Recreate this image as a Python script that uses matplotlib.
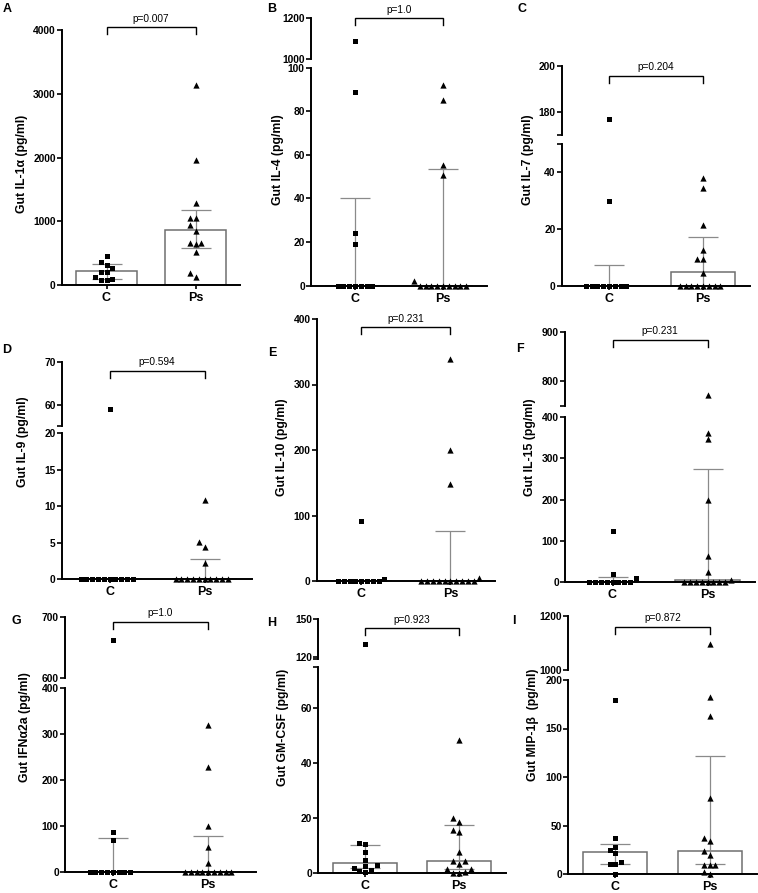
import numpy as np
import matplotlib
matplotlib.use("Agg")
from matplotlib import pyplot as plt
from matplotlib.transforms import blended_transform_factory

plt.rcParams["font.family"] = ["Liberation Sans", "DejaVu Sans"]
plt.rcParams["font.weight"] = "bold"

W, H = 758, 893

# ---- data ----
groups = ["C", "Ps"]
panel_ids = list("ABCDEFGHI")
ylabels = ["Gut IL-1α (pg/ml)", "Gut IL-4 (pg/ml)", "Gut IL-7 (pg/ml)",
           "Gut IL-9 (pg/ml)", "Gut IL-10 (pg/ml)", "Gut IL-15 (pg/ml)",
           "Gut IFNα2a (pg/ml)", "Gut GM-CSF (pg/ml)", "Gut MIP-1β  (pg/ml)"]
pvalues = ["p=0.007", "p=1.0", "p=0.204", "p=0.594", "p=0.231",
           "p=0.231", "p=1.0", "p=0.923", "p=0.872"]

ctrl_A = [455, 366, 314, 267, 209, 209, 120, 99, 78, 78]
ps_A = [3140, 1960, 1291, 1046, 1046, 941, 852, 654, 654, 638, 523, 193, 120]
ctrl_B = [1090, 89, 24, 19, 0, 0, 0, 0, 0, 0, 0]
ps_B = [92, 85, 55.5, 51, 2, 0, 0, 0, 0, 0, 0, 0, 0, 0]
ctrl_C = [177, 30, 0, 0, 0, 0, 0, 0, 0, 0]
ps_C = [38, 34.4, 21.4, 12.6, 9.3, 9.3, 4.6, 0, 0, 0, 0, 0, 0, 0, 0]
ctrl_D = [59, 0, 0, 0, 0, 0, 0, 0, 0, 0, 0]
ps_D = [10.9, 5.1, 4.4, 2.2, 0, 0, 0, 0, 0, 0, 0, 0, 0, 0]
ctrl_E = [92, 3, 0, 0, 0, 0, 0, 0, 0, 0]
ps_E = [339, 200, 148, 4, 0, 0, 0, 0, 0, 0, 0, 0, 0, 0]
ctrl_F = [123, 19, 8, 0, 0, 0, 0, 0, 0, 0, 0]
ps_F = [773, 363, 347, 198, 62, 24, 4, 0, 0, 0, 0, 0, 0, 0, 0]
ctrl_G = [662, 87, 69, 0, 0, 0, 0, 0, 0, 0, 0]
ps_G = [320, 227, 100, 53, 18, 0, 0, 0, 0, 0, 0, 0, 0, 0]
ctrl_H = [130, 11.1, 10.8, 7.8, 4.8, 3.0, 2.6, 2.0, 1.2, 1.0, 0.5]
ps_H = [48.5, 20, 18.6, 15.6, 15, 7.8, 4.5, 4.5, 3.3, 1.4, 1.4, 0.3, 0.1, 0]
ctrl_I = [179, 37, 28, 25, 22, 12.5, 10.3, 10.3, 0]
ps_I = [1094, 182, 163, 78, 37, 34, 24, 20, 9, 9, 9, 2.4, 0]

ctrl_vals = [ctrl_A, ctrl_B, ctrl_C, ctrl_D, ctrl_E, ctrl_F, ctrl_G, ctrl_H, ctrl_I]
ps_vals = [ps_A, ps_B, ps_C, ps_D, ps_E, ps_F, ps_G, ps_H, ps_I]

# median bar and interquartile whiskers
bar_ctrl = [214, 0, 0, 0, 0, 0, 0, 3.8, 23]
lo_ctrl = [89, 0, 0, 0, 0, 0, 0, 1.8, 10.3]
hi_ctrl = [329, 40, 7.3, 0, 0, 11, 74, 10.4, 30.7]
bar_ps = [863, 0, 4.9, 0, 0, 5, 0, 4.5, 24]
lo_ps = [586, 0, 0, 0, 0, 0, 0, 1.4, 10.3]
hi_ps = [1176, 53.5, 17.1, 2.8, 76, 273, 78, 17.4, 122]

# ---- layout in pixels: segments are (lo, hi, bottom_px, top_px) ----
layout = {
    "A": dict(x0=62, x1=240, segs=[(0, 4000, 285, 30)],
              ticks=[[0, 1000, 2000, 3000, 4000]], br=27, letter=(3, 3), ylab=(22, 164)),
    "B": dict(x0=311, x1=487, segs=[(0, 100, 285.7, 67.7), (1000, 1200, 59.3, 18.3)],
              ticks=[[0, 20, 40, 60, 80, 100], [1000, 1200]], br=18.3, letter=(267, 3), ylab=(278, 160)),
    "C": dict(x0=562, x1=750, segs=[(0, 50, 285.7, 144), (170, 200, 135, 65.7)],
              ticks=[[0, 20, 40], [180, 200]], br=76, letter=(518, 3), ylab=(528, 160)),
    "D": dict(x0=62, x1=252, segs=[(0, 20, 579.3, 433.3), (55, 70, 426, 362.3)],
              ticks=[[0, 5, 10, 15, 20], [60, 70]], br=370.7, letter=(2, 344), ylab=(23, 442)),
    "E": dict(x0=316.7, x1=495, segs=[(0, 400, 581, 319)],
              ticks=[[0, 100, 200, 300, 400]], br=327.3, letter=(268, 347), ylab=(282, 447)),
    "F": dict(x0=565, x1=755, segs=[(0, 400, 581.7, 417.3), (750, 900, 406, 332.3)],
              ticks=[[0, 100, 200, 300, 400], [800, 900]], br=340, letter=(516, 343), ylab=(530, 447)),
    "G": dict(x0=65, x1=256, segs=[(0, 400, 871.7, 687.7), (600, 700, 677.7, 616.7)],
              ticks=[[0, 100, 200, 300, 400], [600, 700]], br=621.7, letter=(12, 615), ylab=(25, 727)),
    "H": dict(x0=318.3, x1=506, segs=[(0, 75, 873.3, 666.7), (118, 150, 659.2, 619)],
              ticks=[[0, 20, 40, 60], [120, 150]], br=628.3, letter=(267, 617), ylab=(283, 727)),
    "I": dict(x0=568.3, x1=756.7, segs=[(0, 200, 874, 680), (1000, 1200, 670, 615.7)],
              ticks=[[0, 50, 100, 150, 200], [1000, 1200]], br=626.7, letter=(512, 615), ylab=(533, 725)),
}

BAR_EDGE = "#6f6f6f"
ERR_COLOR = "#8a8a8a"


def to_px(v, segs):
    for lo, hi, pb, pt in segs:
        if lo <= v <= hi:
            return pb + (v - lo) / (hi - lo) * (pt - pb)
    return None


def swarm(vals, segs, d):
    # simple beeswarm in pixel space, returns x offsets in px
    vals = np.asarray(vals, dtype=float)
    offs = np.zeros(len(vals))
    placed = []
    for i in np.argsort(vals, kind="stable"):
        y = to_px(vals[i], segs)
        k = 0
        while True:
            cand = ((k + 1) // 2) * (-1 if k % 2 else 1) * d
            if all(abs(cand - px) >= d * 0.98 or abs(y - py) >= d * 0.98 for px, py in placed):
                break
            k += 1
        placed.append((cand, y))
        offs[i] = cand
    return offs


fig = plt.figure(figsize=(W / 100, H / 100), dpi=100)

for idx, pid in enumerate(panel_ids):
    lay = layout[pid]
    x0, x1 = lay["x0"], lay["x1"]
    spacing = (x1 - x0) / 2.0
    axes = []
    for s, (lo, hi, pb, pt) in enumerate(lay["segs"]):
        ax = fig.add_axes([x0 / W, 1 - pb / H, (x1 - x0) / W, (pb - pt) / H])
        ax.set_xlim(-0.5, 1.5)
        ax.set_ylim(lo, hi)
        ax.patch.set_alpha(0)
        for side in ("top", "right"):
            ax.spines[side].set_visible(False)
        ax.spines["left"].set_linewidth(1.4)
        ax.spines["bottom"].set_linewidth(1.4)
        ax.set_yticks(lay["ticks"][s])
        if len(lay["segs"]) > 1:
            ax.set_yticks([lo, hi], minor=True)
        ax.tick_params(axis="y", which="both", length=3.5, width=1.2, pad=1, labelsize=7.4)
        if s == 0:
            ax.set_xticks([0, 1])
            ax.set_xticklabels(groups)
            ax.tick_params(axis="x", length=3, width=1.2, pad=2, labelsize=9)
        else:
            ax.spines["bottom"].set_visible(False)
            ax.set_xticks([])
        axes.append(ax)

    base = axes[0]
    stats = [(bar_ctrl[idx], lo_ctrl[idx], hi_ctrl[idx]),
             (bar_ps[idx], lo_ps[idx], hi_ps[idx])]
    for g, (med, lo, hi) in enumerate(stats):
        base.bar(g, med, width=0.68, facecolor="white", edgecolor=BAR_EDGE,
                 linewidth=1.1, zorder=1)
        base.errorbar(g, med, yerr=[[med - lo], [hi - med]], fmt="none",
                      ecolor=ERR_COLOR, elinewidth=0.9, capsize=11, capthick=0.9, zorder=2)

    for g, (vals, marker, ms, d) in enumerate([(ctrl_vals[idx], "s", 3.6, 5.8),
                                               (ps_vals[idx], "^", 4.5, 5.8)]):
        offs = swarm(vals, lay["segs"], d) / spacing
        vals = np.asarray(vals, dtype=float)
        for s, (lo, hi, pb, pt) in enumerate(lay["segs"]):
            m = (vals >= lo) & (vals <= hi)
            if m.any():
                axes[s].scatter(g + offs[m], vals[m], marker=marker, s=ms ** 2,
                                color="black", linewidths=0, zorder=3, clip_on=False)

    top = axes[-1]
    tr = blended_transform_factory(top.transData, fig.transFigure)
    yt = 1 - lay["br"] / H
    yb = 1 - (lay["br"] + 7) / H
    top.plot([0, 0, 1, 1], [yb, yt, yt, yb], transform=tr, color="black",
             lw=1.0, clip_on=False, solid_joinstyle="miter")
    top.text(0.5, 1 - (lay["br"] - 3.5) / H, pvalues[idx], transform=tr,
             ha="center", va="bottom", fontsize=7.3, fontweight="normal")

    lx, ly = lay["letter"]
    fig.text(lx / W, 1 - ly / H, pid, ha="left", va="top", fontsize=9, fontweight="bold")
    yx, yy = lay["ylab"]
    fig.text(yx / W, 1 - yy / H, ylabels[idx], rotation=90, ha="center", va="center",
             fontsize=8.8, fontweight="bold")

fig.savefig("out.png", dpi=100)
